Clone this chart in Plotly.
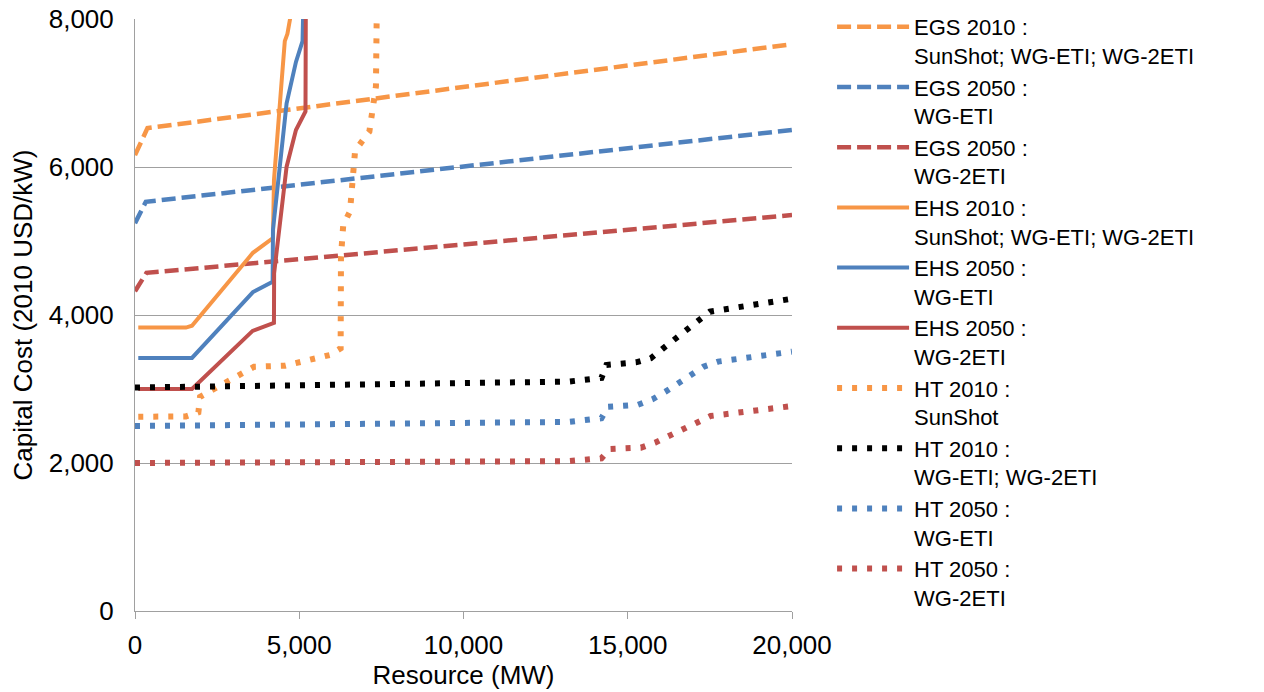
import plotly.graph_objects as go

# ---- data (Resource MW, Capital cost 2010 USD/kW) ----
egs2010_x = [0, 380, 20000]
egs2010_y = [6160, 6525, 7660]
egs2050a_x = [0, 330, 20000]
egs2050a_y = [5240, 5530, 6500]
egs2050b_x = [0, 350, 20000]
egs2050b_y = [4320, 4570, 5350]

ehs2010_x = [100, 1550, 1735, 3590, 4200, 4230, 4450, 4560, 4640, 4800]
ehs2010_y = [3830, 3830, 3855, 4840, 5040, 5820, 7080, 7700, 7800, 8200]
ehs2050a_x = [100, 1735, 3590, 4190, 4200, 4615, 4900, 5100, 5125]
ehs2050a_y = [3420, 3420, 4310, 4450, 5150, 6860, 7420, 7700, 8200]
ehs2050b_x = [100, 1735, 3580, 4230, 4235, 4615, 4900, 5190, 5200]
ehs2050b_y = [3000, 3000, 3785, 3895, 4565, 6005, 6500, 6750, 8200]

ht2010a_x = [100, 1550, 1930, 1980, 3620, 4565, 5935, 6260, 6270, 6340, 6545, 6700, 7135, 7335, 7355, 7365]
ht2010a_y = [2625, 2630, 2685, 2895, 3300, 3315, 3460, 3550, 4790, 5220, 5400, 6220, 6480, 7090, 7930, 8200]
ht2010b_x = [0, 1800, 8000, 13200, 14200, 14350, 15250, 15700, 16050, 17150, 17500, 20000]
ht2010b_y = [3020, 3030, 3060, 3100, 3150, 3325, 3360, 3415, 3540, 3920, 4045, 4220]
ht2050a_x = [0, 13200, 14200, 14400, 15300, 15750, 16150, 17300, 17750, 20000]
ht2050a_y = [2500, 2555, 2605, 2760, 2785, 2860, 2965, 3300, 3370, 3505]
ht2050b_x = [0, 13200, 14200, 14450, 15400, 15830, 17100, 17520, 20000]
ht2050b_y = [2000, 2025, 2063, 2190, 2207, 2275, 2545, 2635, 2770]

names = [
    "EGS 2010 :<br>SunShot; WG-ETI; WG-2ETI",
    "EGS 2050 :<br>WG-ETI",
    "EGS 2050 :<br>WG-2ETI",
    "EHS 2010 :<br>SunShot; WG-ETI; WG-2ETI",
    "EHS 2050 :<br>WG-ETI",
    "EHS 2050 :<br>WG-2ETI",
    "HT 2010 :<br>SunShot",
    "HT 2010 :<br>WG-ETI; WG-2ETI",
    "HT 2050 :<br>WG-ETI",
    "HT 2050 :<br>WG-2ETI",
]

ORANGE = "#F79646"
BLUE = "#4F81BD"
RED = "#C0504D"
BLACK = "#000000"

DASH = "14px,6px"
DOT = "5px,10px"

series = [
    (egs2010_x, egs2010_y, ORANGE, DASH, 4.5),
    (egs2050a_x, egs2050a_y, BLUE, DASH, 4.5),
    (egs2050b_x, egs2050b_y, RED, DASH, 4.5),
    (ehs2010_x, ehs2010_y, ORANGE, "solid", 4),
    (ehs2050a_x, ehs2050a_y, BLUE, "solid", 4),
    (ehs2050b_x, ehs2050b_y, RED, "solid", 4),
    (ht2010a_x, ht2010a_y, ORANGE, DOT, 6),
    (ht2010b_x, ht2010b_y, BLACK, DOT, 6),
    (ht2050a_x, ht2050a_y, BLUE, DOT, 6),
    (ht2050b_x, ht2050b_y, RED, DOT, 6),
]

FONT = "Liberation Sans, Arial, sans-serif"

fig = go.Figure()
for (xs, ys, col, dash, w), nm in zip(series, names):
    fig.add_trace(go.Scatter(x=xs, y=ys, mode="lines", name=nm,
                             line=dict(color=col, dash=dash, width=w)))

fig.update_layout(
    width=1264, height=692,
    margin=dict(l=135, r=472, t=19, b=81, autoexpand=False),
    paper_bgcolor="white", plot_bgcolor="white",
    font=dict(family=FONT, size=26, color="#000000"),
    showlegend=True,
    legend=dict(x=1.061, xanchor="left", y=1.022, yanchor="top",
                font=dict(family=FONT, size=22, color="#000000"),
                valign="top", itemwidth=72, bgcolor="rgba(0,0,0,0)",
                traceorder="normal", tracegroupgap=0, maxheight=692),
)
fig.update_xaxes(range=[0, 20000], tickvals=[0, 5000, 10000, 15000, 20000],
                 tickformat=",", showgrid=False, showline=True, linecolor="#A0A0A0",
                 linewidth=1, ticks="outside", ticklen=7, tickcolor="#A0A0A0",
                 zeroline=False, ticklabelstandoff=4,
                 title=dict(text="Resource (MW)", standoff=4,
                            font=dict(family=FONT, size=26)),
                 tickfont=dict(family=FONT, size=26))
fig.update_yaxes(range=[0, 8000], tickvals=[0, 2000, 4000, 6000, 8000],
                 tickformat=",", showgrid=True, gridcolor="#A0A0A0", gridwidth=1,
                 showline=True, linecolor="#A0A0A0", linewidth=1, ticks="",
                 zeroline=False, ticklabelstandoff=15,
                 title=dict(text="Capital Cost (2010 USD/kW)", standoff=8,
                            font=dict(family=FONT, size=26)),
                 tickfont=dict(family=FONT, size=26))

fig.write_html("out.html", config={"displayModeBar": False},
               post_script="document.body.style.margin='0';document.body.style.overflow='hidden';")
